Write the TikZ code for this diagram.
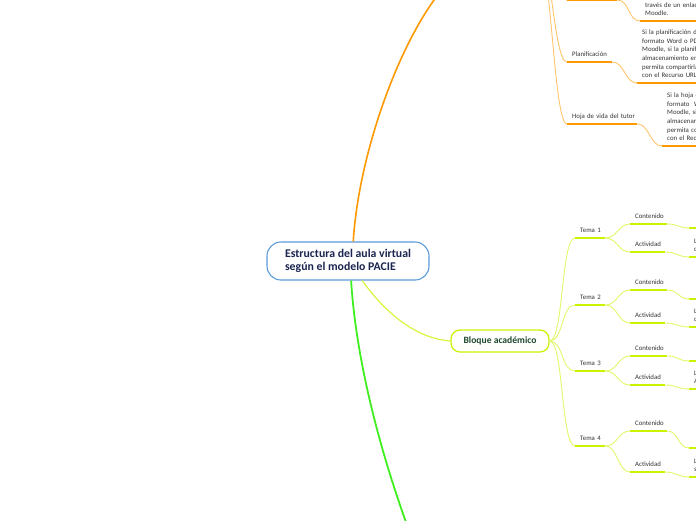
\documentclass[tikz,border=0pt]{standalone}
\usepackage{fontspec}
\setmainfont{Carlito}
\definecolor{orgdark}{HTML}{FF9900}
\definecolor{orglight}{HTML}{FFC46B}
\definecolor{limedark}{HTML}{CCF200}
\definecolor{limelight}{HTML}{E0F86A}
\definecolor{trunkgreen}{HTML}{3FEF1F}
\definecolor{pacieblue}{HTML}{5B9BD8}
\definecolor{pacienavy}{HTML}{1B2550}
\definecolor{bloquegreen}{HTML}{1E4A2C}
\hyphenpenalty=10000
\tikzset{
  blk/.style={anchor=south west, inner xsep=5pt, inner ysep=5pt,
    text width=#1pt, align=left, text=black!80,
    font=\fontsize{6.8}{8.6}\selectfont},
  lbl/.style={blk=#1, text depth=0pt},
  othin/.style={orglight, line width=0.9pt},
  othick/.style={orgdark, line width=2pt},
  ythin/.style={limelight, line width=0.9pt},
  ythick/.style={limedark, line width=2pt}
}

\begin{document}
\begin{tikzpicture}[x=1pt,y=-1pt]
\useasboundingbox (0,0) rectangle (696,520);

% main topics
\node[draw=pacieblue, line width=1.1pt, fill=white, rounded corners=14pt, minimum width=162pt, minimum height=38pt,
  align=left, text=pacienavy, font=\bfseries\fontsize{11.8}{13}\selectfont] (aula) at (348,261)
  {Estructura del aula virtual\\según el modelo PACIE};
\node[draw=limedark, line width=1.2pt, fill=white, rounded corners=9pt, minimum width=98pt, minimum height=22pt,
  text=bloquegreen, font=\bfseries\fontsize{9.6}{11}\selectfont] (bloque) at (500,341) {Bloque académico};

\coordinate (pacie) at (437,-4);
\coordinate (sigue) at (407,525);
\coordinate (arriba) at (535,-60);

\draw[orgdark, line width=1.6pt] (aula.75) .. controls +(5,-82) and +(-42,56) .. (pacie);
\draw[trunkgreen, line width=1.8pt] (aula.-81) .. controls +(5,80) and +(-27,-75) .. (sigue);
\draw[limelight!60!limedark, line width=1.2pt] (aula.-54) .. controls +(18,25) and +(-40,-3) .. (bloque.west);

% orange branch
\node[lbl=40] (t0) at (567,0) {};
\node[blk=120] (t0d) at (640,21) {través de un enlac\\Moodle.};
\node[lbl=35] (plan) at (567,62) {Planificación};
\node[blk=120] (pland) at (637,83) {Si la planificación de\\formato Word o PD\\Moodle, si la planific\\almacenamiento en\\permita compartirla\\con el Recurso URL.};
\node[lbl=60] (hoja) at (567,124) {Hoja~de~vida~del~tutor};
\node[blk=120] (hojad) at (662,146) {Si la hoja d\\formato~ W\\Moodle, si\\almacenar\\permita co\\con el Recu};

\foreach \n in {t0,plan,hoja}
  \draw[othin] (arriba) .. controls +(16,0) and +(-14,0) .. (\n.south west);
\draw[othin] (t0.south east) .. controls +(12,0) and +(-12,0) .. (t0d.south west);
\draw[othin] (plan.south east) .. controls +(12,0) and +(-12,0) .. (pland.south west);
\draw[othin] (hoja.south east) .. controls +(12,0) and +(-12,0) .. (hojad.south west);
\foreach \n in {t0,t0d,plan,pland,hoja,hojad}
  \draw[othick] (\n.south west) -- (\n.south east);

% bloque academico
\foreach \i/\ty/\cy/\ay/\cd/\ad/\ch in {1/238/224/252/228/257/c, 2/305/290/323/299/327/c,
    3/371/356/385/361/389/A, 4/446/431/472/448/477/s} {
  \node[lbl=20] (tema\i) at (575,\ty) {Tema~\i};
  \node[lbl=27] (cont\i) at (630,\cy) {Contenido};
  \node[lbl=25] (act\i) at (630,\ay) {Actividad};
  \node[lbl=30] (contd\i) at (689,\cd) {};
  \node[blk=30] (actd\i) at (689,\ad) {L\\\ch};
  \draw[ythin] (bloque.east) .. controls +(14,0) and +(-14,0) .. (tema\i.south west);
  \draw[ythin] (tema\i.south east) .. controls +(12,0) and +(-12,0) .. (cont\i.south west);
  \draw[ythin] (tema\i.south east) .. controls +(12,0) and +(-12,0) .. (act\i.south west);
  \draw[ythin] (cont\i.south east) .. controls +(11,0) and +(-11,0) .. (contd\i.south west);
  \draw[ythin] (act\i.south east) .. controls +(11,0) and +(-11,0) .. (actd\i.south west);
  \foreach \n in {tema\i,cont\i,act\i,contd\i,actd\i}
    \draw[ythick] (\n.south west) -- (\n.south east);
}
\end{tikzpicture}
\end{document}
